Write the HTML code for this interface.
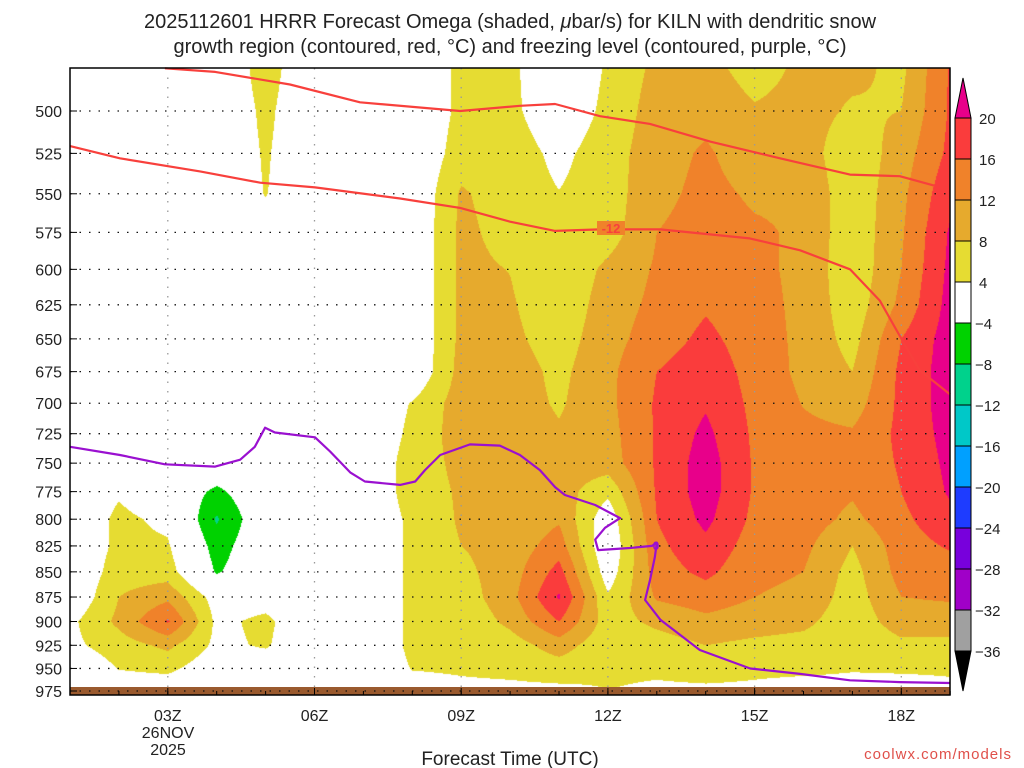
<!DOCTYPE html>
<html><head><meta charset="utf-8">
<style>
html,body{margin:0;padding:0;background:#fff;width:1024px;height:768px;overflow:hidden}
#wrap{position:relative;width:1024px;height:768px}
canvas{position:absolute;left:70px;top:68px}
svg{position:absolute;left:0;top:0}
text{font-family:"Liberation Sans",sans-serif;fill:#222}
</style></head>
<body>
<div id="wrap">
<canvas id="field" width="880" height="627"></canvas>
<svg id="ov" width="1024" height="768"></svg>
</div>
<script>
const levels=[475,500,525,550,575,600,625,650,675,700,725,750,775,800,825,850,875,900,925,950,975];
const hours=[1,2,3,4,5,6,7,8,9,10,11,12,13,14,15,16,17,18,19];
const omegaH1=[0,0,0,0,0,0,0,0,0,0,0,0,0,0,0,0,0,3,3,0,0];
const omegaH2=[0,0,0,0,0,0,0,0,0,0,0,0,3.5,5,5,6,8,9,6,4.2,1];
const omegaH3=[0,0,0,0,0,0,0,0,0,0,0,0,0,3,4.5,6,11,16.5,9,5,1];
const omegaH4=[0,0,0,0,0,0,0,0,0,0,0,0,-5,-8.5,-6,-4.5,2,3,3,1,0];
const omegaH5=[6,5,4.5,4.2,2,0,0,0,0,0,0,0,0,0,0,0,2,5,4.5,1,0];
const omegaH6=[0,0,0,0,0,0,0,0,0,0,0,0,0,0,0,0,0,0,0,0,0];
const omegaH7=[0,0,0,0,0,0,0,0,0,0,0,0,0,0,0,0,0,0,0,0,0];
const omegaH8=[0,0,0,0,0,0,0,0,0,4.3,5,6,6,5,5,5,5,5,5,4.2,2];
const omegaH9=[5,5,6,8.5,9,9,9,9,9.5,10,10,9,8.5,8.5,8,7,6,5,5,4.5,3];
const omegaH10=[5,5,6,6,6.5,7.9,8.5,9,10,10,10,10,10,9,9.5,10,10.5,9,6,5,3];
const omegaH11=[0,1,3,4.1,4.1,4.5,5,6,7,7.5,8.5,10,10,11.5,14,17.5,20.5,16,10,6,3];
const omegaH12=[4.5,5,6,6,6,9,10,10.5,11,11,10.5,10,5,1,0,1.5,4.5,6,5,4.5,4];
const omegaH13=[9,10,10.5,11,12,12.5,13,14,16,16.5,16.5,16.5,16.5,16,15,14,12.5,9,6,4.5,3.5];
const omegaH14=[9.5,11,12.5,13,13.5,14,15.5,17,18.5,19.5,21,22,22,21,19,17,14,11,8,5,3.5];
const omegaH15=[6,8.5,10,11.5,12.5,13,13.5,14,14.5,15,15.3,15.5,15.5,15,14,13,12,10,7,4.5,3.5];
const omegaH16=[9,9.5,10,11.5,11.5,11,11,11,11,11.8,13,14,14,14,13,12,11,9,6.5,4.5,3];
const omegaH17=[9,7.5,5,5,5,5,5.5,6.5,8,10,12.5,13,12.5,11,8,6.5,6,5.5,5,4.2,3];
const omegaH18=[7,8,10,11,11.5,12,13,16,17,17,17,16.5,16,15,14,13.5,12,10,7,4.3,3];
const omegaH19=[16.5,16.5,17,19,20.5,21,21.5,22,22,22,21.5,21,20.5,19,16.5,14,12.5,10,7,4.3,3.5];
const omegaColumns=[omegaH1,omegaH2,omegaH3,omegaH4,omegaH5,omegaH6,omegaH7,omegaH8,omegaH9,omegaH10,omegaH11,omegaH12,omegaH13,omegaH14,omegaH15,omegaH16,omegaH17,omegaH18,omegaH19];

const dgzHours=[1,2.02,3.66,4.89,6.01,7.75,8.98,10,10.92,11.84,13.07,14.9,15.93,16.95,17.56,18.08,18.38,19];
const dgzPres=[520.6,528,536,543,546,553,559,568,574,573,573,579,587,600,622,655,674,693];
const dgzTopHours=[2.94,3.97,5.5,6.93,8.98,10.2,10.92,11.84,12.86,14.1,15.52,16.95,17.97,18.69];
const dgzTopPres=[476,478,485,495,500,497,496,503,507.5,518,528,538,539,545];
const frzHours=[1,2.02,2.94,3.97,4.48,4.78,4.99,5.19,6.01,6.32,6.73,7.03,7.75,8.06,8.26,8.57,9.18,9.79,10.2,10.61,10.92,11.12,11.74,12.25,11.94,11.74,11.8,12.45,12.9,13.0,12.96,12.86,12.76,13.07,13.88,14.91,15.93,16.95,17.97,19];
const frzPres=[736,743,751,753,747,736,720,724,728,740,758,766,769,766,756,743,734,735,743,756,771,778,787,799,808,819,829,827,825,822,836,858,878,898,930,950,956,963,965,966];

const tickLevels=[500,525,550,575,600,625,650,675,700,725,750,775,800,825,850,875,900,925,950,975];
const timeTicks=[3,6,9,12,15,18];
const timeLabels=["03Z","06Z","09Z","12Z","15Z","18Z"];
const cbValues=[20,16,12,8,4,-4,-8,-12,-16,-20,-24,-28,-32,-36];
const cbColors=["#fa3c3c","#f0822a","#e6aa2d","#e6dc32","#ffffff","#00d200","#00d28c","#00c8c8","#00a0ff","#1e3cff","#7800dc","#a000c8","#a0a0a0"];

const X0=70,X1=950,Y0=68,Y1=695;
function xOf(h){return 70+(h-1)*48.9;}
function yOf(p){return 111+868.5*Math.log(p/500);}
function pOf(y){return 500*Math.exp((y-111)/868.5);}
function colorOf(v){
  if(v>=20)return[232,0,138];
  if(v>=16)return[250,60,60];
  if(v>=12)return[240,130,42];
  if(v>=8)return[230,170,45];
  if(v>=4)return[230,220,50];
  if(v>-4)return[255,255,255];
  if(v>-8)return[0,210,0];
  if(v>-12)return[0,210,140];
  if(v>-16)return[0,200,200];
  if(v>-20)return[0,160,255];
  return[30,60,255];
}
const cv=document.getElementById('field'),ctx=cv.getContext('2d');
const img=ctx.createImageData(880,627);
for(let py=0;py<627;py++){
  const p=pOf(Y0+py+0.5);
  let fi=(p-levels[0])/25; fi=Math.max(0,Math.min(levels.length-1.0001,fi));
  const i0=Math.floor(fi),ti=fi-i0;
  for(let px=0;px<880;px++){
    let fj=(px+0.5)/48.9; fj=Math.max(0,Math.min(hours.length-1.0001,fj));
    const j0=Math.floor(fj),tj=fj-j0;
    const a=omegaColumns[j0],b=omegaColumns[j0+1];
    const v=(a[i0]*(1-ti)+a[i0+1]*ti)*(1-tj)+(b[i0]*(1-ti)+b[i0+1]*ti)*tj;
    const c=colorOf(v),k=(py*880+px)*4;
    img.data[k]=c[0];img.data[k+1]=c[1];img.data[k+2]=c[2];img.data[k+3]=255;
  }
}
ctx.putImageData(img,0,0);

const NS='http://www.w3.org/2000/svg',svg=document.getElementById('ov');
function el(t,at,parent){const e=document.createElementNS(NS,t);for(const k in at)e.setAttribute(k,at[k]);(parent||svg).appendChild(e);return e;}
function txt(s,at){const e=el('text',at);e.textContent=s;return e;}

const g=el('rect',{x:X0,y:687,width:X1-X0,height:Y1-687,fill:'#9a5a2e'});



tickLevels.forEach(p=>{
  const y=yOf(p);
  const l=el('line',{x1:X0,x2:X1,y1:y,y2:y,stroke:'#111','stroke-width':1.3,'stroke-dasharray':'1.5,8'});
  
  
  el('line',{x1:X0,x2:X0+7,y1:y,y2:y,stroke:'#000','stroke-width':1});
  const t=txt(String(p),{x:62,y:y+6,'text-anchor':'end','font-size':16});
  
  
});
timeTicks.forEach((h,i)=>{
  const x=xOf(h);
  const l=el('line',{x1:x,x2:x,y1:Y0,y2:Y1,stroke:'#999','stroke-width':1.3,'stroke-dasharray':'1.5,8'});
  
  
  el('line',{x1:x,x2:x,y1:Y1,y2:Y1-7,stroke:'#000','stroke-width':1});
  const t=txt(timeLabels[i],{x:x,y:721,'text-anchor':'middle','font-size':16});
  
  
});
for(let h=1;h<=19;h++){el('line',{x1:xOf(h),x2:xOf(h),y1:Y1,y2:Y1-4,stroke:'#000','stroke-width':1});}

function poly(hs,ps,color,name){
  const pts=hs.map((h,i)=>xOf(h).toFixed(1)+','+yOf(ps[i]).toFixed(1)).join(' ');
  const l=el('polyline',{points:pts,fill:'none',stroke:color,'stroke-width':2.2,'stroke-linejoin':'round'});
  
  
}
poly(dgzHours,dgzPres,'#f8403c','dgz-contour-minus12');
poly(dgzTopHours,dgzTopPres,'#f8403c','dgz-contour-upper');
poly(frzHours,frzPres,'#9a10d0','freezing-level-contour');
el('rect',{x:597,y:221,width:28,height:14,fill:'#f0822a'});
const l12=txt('-12',{x:611,y:233,'text-anchor':'middle','font-size':13,'font-weight':'bold',style:'fill:#f8403c'});


const l0=txt('0',{x:656,y:550,'text-anchor':'middle','font-size':12,'font-weight':'bold',style:'fill:#9a10d0'});



const fr=el('rect',{x:X0,y:Y0,width:X1-X0,height:Y1-Y0,fill:'none',stroke:'#000','stroke-width':1.5});



const CB_X=955,CB_W=16,CB_TOP=118,CB_STEP=41;
el('polygon',{points:`${CB_X},${CB_TOP} ${CB_X+CB_W},${CB_TOP} ${CB_X+CB_W/2},78`,fill:'#e8008a',stroke:'#000','stroke-width':1});
cbColors.forEach((c,i)=>{
  const r=el('rect',{x:CB_X,y:CB_TOP+i*CB_STEP,width:CB_W,height:CB_STEP,fill:c,stroke:'#000','stroke-width':1});
  
  
});
const bot=CB_TOP+cbColors.length*CB_STEP;
el('polygon',{points:`${CB_X},${bot} ${CB_X+CB_W},${bot} ${CB_X+CB_W/2},${bot+40}`,fill:'#000',stroke:'#000','stroke-width':1});
cbValues.forEach((v,i)=>{
  const t=txt(v<0?'\u2212'+(-v):String(v),{x:v<0?975:979,y:CB_TOP+i*CB_STEP+6,'font-size':15});
  
  
});
</script>
<svg width="1024" height="768" style="position:absolute;left:0;top:0;pointer-events:none">
<text x="510" y="28" text-anchor="middle" font-size="20">2025112601 HRRR Forecast Omega (shaded, <tspan font-style="italic">μ</tspan>bar/s) for KILN with dendritic snow</text>
<text x="510" y="53" text-anchor="middle" font-size="20">growth region (contoured, red, °C) and freezing level (contoured, purple, °C)</text>
<text x="168" y="738" text-anchor="middle" font-size="16">26NOV</text>
<text x="168" y="755" text-anchor="middle" font-size="16">2025</text>
<text x="510" y="765" text-anchor="middle" font-size="19">Forecast Time (UTC)</text>
<text x="1012" y="759" text-anchor="end" font-size="15" letter-spacing="1" style="fill:#e0504a">coolwx.com/models</text>
</svg>
</body></html>
